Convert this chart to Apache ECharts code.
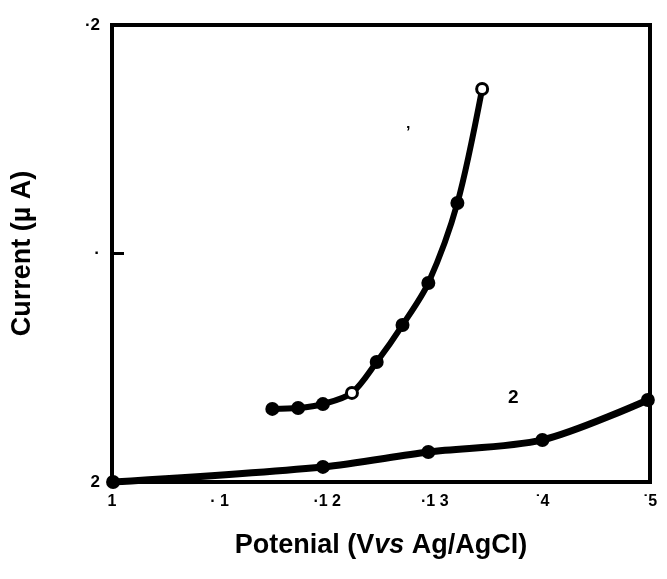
<!DOCTYPE html>
<html>
<head>
<meta charset="utf-8">
<title>Current vs potential</title>
<script src="https://cdn.jsdelivr.net/npm/echarts@6/dist/echarts.min.js"></script>
<style>
  html, body { margin: 0; padding: 0; background: #fff; }
  #chart { width: 667px; height: 579px; }
</style>
</head>
<body>
<div id="chart"></div>
<script>
// potential magnitude (V vs Ag/AgCl) and current (uA)
const curve1X = [1.149, 1.173, 1.196, 1.223, 1.246, 1.270, 1.294, 1.321, 1.344];
const curve1Y = [0.32, 0.324, 0.341, 0.39, 0.525, 0.687, 0.871, 1.221, 1.72];
const curve2X = [1.001, 1.196, 1.294, 1.400, 1.498];
const curve2Y = [0.0, 0.066, 0.131, 0.184, 0.359];

const xTickLabels = ['1', '\u00b7 1', '\u00b71 2', '\u00b71 3', '\u02d94', '\u02d95'];
const yTickLabels = ['2', '\u00b7', '\u00b72'];

// points drawn as open circles on curve 1
const openIdx = [3, 8];

const FONT = '"Liberation Sans", Arial, sans-serif';

const chart = echarts.init(document.getElementById('chart'), null, { renderer: 'canvas' });

const curve1Data = curve1X.map((x, i) => {
  const pt = { value: [x, curve1Y[i]] };
  if (openIdx.includes(i)) {
    pt.symbolSize = 11;
    pt.itemStyle = { color: '#fff', borderColor: '#000', borderWidth: 3 };
  }
  return pt;
});
const curve2Data = curve2X.map((x, i) => [x, curve2Y[i]]);

const option = {
  animation: false,
  backgroundColor: '#fff',
  grid: {
    left: 112,
    right: 17,
    top: 25,
    bottom: 97,
    show: true,
    borderColor: '#000',
    borderWidth: 4,
  },
  xAxis: {
    type: 'value',
    min: 1.0,
    max: 1.5,
    interval: 0.1,
    name: 'Potenial (V{i|vs} Ag/AgCl)',
    nameLocation: 'middle',
    nameGap: 50,
    nameTextStyle: {
      color: '#000',
      fontSize: 27,
      fontWeight: 'bold',
      fontFamily: FONT,
      rich: {
        i: { fontSize: 27, fontWeight: 'bold', fontStyle: 'italic', fontFamily: FONT, color: '#000' },
      },
    },
    axisLine: { lineStyle: { color: '#000', width: 4 } },
    axisTick: { show: false },
    splitLine: { show: false },
    axisLabel: {
      color: '#000',
      fontSize: 16,
      fontWeight: 'bold',
      fontFamily: FONT,
      margin: 12,
      formatter: (v) => xTickLabels[Math.round((v - 1) * 10)] || '',
    },
  },
  yAxis: {
    type: 'value',
    min: 0,
    max: 2,
    interval: 1,
    name: 'Current (\u00b5 A)',
    nameLocation: 'middle',
    nameGap: 76,
    nameTextStyle: {
      color: '#000',
      fontSize: 27,
      fontWeight: 'bold',
      fontFamily: FONT,
    },
    axisLine: { lineStyle: { color: '#000', width: 4 } },
    axisTick: { show: true, inside: true, length: 12, lineStyle: { color: '#000', width: 3 } },
    splitLine: { show: false },
    axisLabel: {
      color: '#000',
      fontSize: 17,
      fontWeight: 'bold',
      fontFamily: FONT,
      margin: 12,
      formatter: (v) => yTickLabels[Math.round(v)] || '',
    },
  },
  series: [
    {
      name: 'curve 1',
      type: 'line',
      smooth: 0.3,
      symbol: 'circle',
      symbolSize: 14,
      itemStyle: { color: '#000' },
      lineStyle: { color: '#000', width: 6 },
      data: curve1Data,
    },
    {
      name: 'curve 2',
      type: 'line',
      smooth: 0.3,
      symbol: 'circle',
      symbolSize: 14,
      itemStyle: { color: '#000' },
      lineStyle: { color: '#000', width: 7 },
      data: curve2Data,
    },
  ],
  graphic: [
    {
      type: 'text',
      left: 508,
      top: 388,
      style: { text: '2', fill: '#000', font: 'bold 19px ' + FONT },
    },
    {
      type: 'text',
      left: 406,
      top: 126,
      style: { text: '\u2019', fill: '#000', font: 'bold 16px ' + FONT },
    },
  ],
};

chart.setOption(option);
</script>
</body>
</html>
